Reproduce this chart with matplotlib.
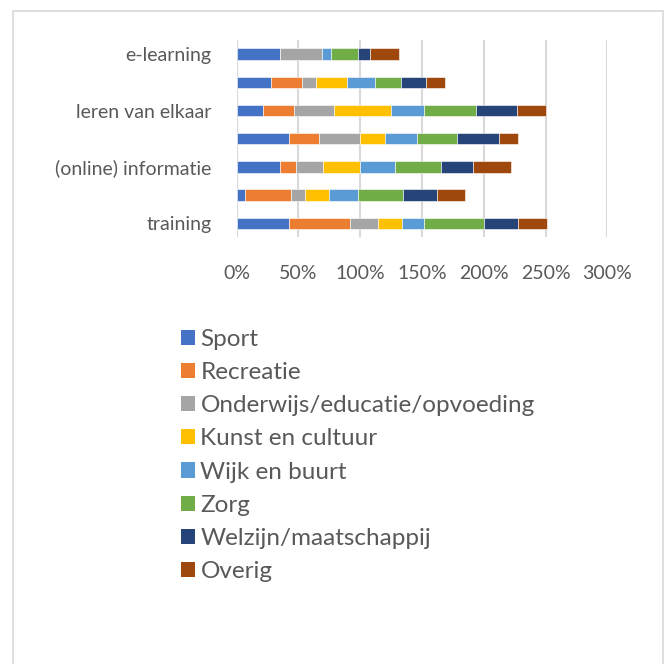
import numpy as np
import matplotlib.pyplot as plt
from matplotlib.patches import Rectangle, Patch

plt.rcParams["font.family"] = ["Lato", "DejaVu Sans"]

# rows from bottom to top; only every other label is shown in the original
categories = ["training", "", "(online) informatie", "", "leren van elkaar", "", "e-learning"]

series_names = [
    "Sport",
    "Recreatie",
    "Onderwijs/educatie/opvoeding",
    "Kunst en cultuur",
    "Wijk en buurt",
    "Zorg",
    "Welzijn/maatschappij",
    "Overig",
]

# percentages per row (bottom -> top)
sport = [42, 7, 35, 42, 21, 28, 35]
recreatie = [50, 37, 13, 25, 25, 25, 0]
onderwijs = [22, 11, 22, 33, 33, 11, 34]
kunst = [20, 20, 30, 20, 46, 25, 0]
wijk = [18, 23, 28, 26, 27, 23, 7]
zorg = [48, 37, 37, 32, 42, 21, 22]
welzijn = [28, 27, 26, 34, 33, 20, 10]
overig = [23, 23, 31, 16, 23, 16, 23]

colors = ["#4472C4", "#ED7D31", "#A5A5A5", "#FFC000",
          "#5B9BD5", "#70AD47", "#264478", "#9E480E"]

W, H = 668, 664
fig = plt.figure(figsize=(W / 100, H / 100), dpi=100)

# chart border
fig.patches.append(Rectangle((13 / W, -0.1), (663 - 13) / W, 1.1 - 11 / H,
                             transform=fig.transFigure, fill=False,
                             edgecolor="#d9d9d9", linewidth=1.2))

ax = fig.add_axes([236.7 / W, 1 - 237.4 / H, (607.3 - 236.7) / W, (237.4 - 40) / H])

data = [sport, recreatie, onderwijs, kunst, wijk, zorg, welzijn, overig]
y = np.arange(len(categories))
left = np.zeros(len(categories))
for vals, name, c in zip(data, series_names, colors):
    vals = np.array(vals, dtype=float)
    ax.barh(y, vals, left=left, height=0.4, color=c, edgecolor="white",
            linewidth=0.4, label=name, zorder=3)
    left += vals

ax.set_xlim(0, 300)
ax.set_ylim(-0.5, len(categories) - 0.5)
ax.set_xticks(np.arange(0, 301, 50))
ax.set_xticklabels([f"{v}%" for v in range(0, 301, 50)])
ax.set_yticks(y)
ax.set_yticklabels(categories)
ax.xaxis.grid(True, color="#d9d9d9", linewidth=1.5, zorder=0)
for s in ax.spines.values():
    s.set_visible(False)
ax.tick_params(axis="both", length=0, labelsize=14, labelcolor="#595959")
ax.tick_params(axis="x", pad=20)
ax.tick_params(axis="y", pad=18)

handles = [Patch(facecolor=c, edgecolor="none") for c in colors]
fig.legend(handles, series_names, loc="upper left",
           bbox_to_anchor=(181 / W, 1 - 329 / H), frameon=False,
           borderpad=0, borderaxespad=0,
           fontsize=17.5, labelcolor="#595959", handlelength=0.58,
           handleheight=0.58, handletextpad=0.22, labelspacing=0.5)

fig.savefig("out.png", dpi=100)
